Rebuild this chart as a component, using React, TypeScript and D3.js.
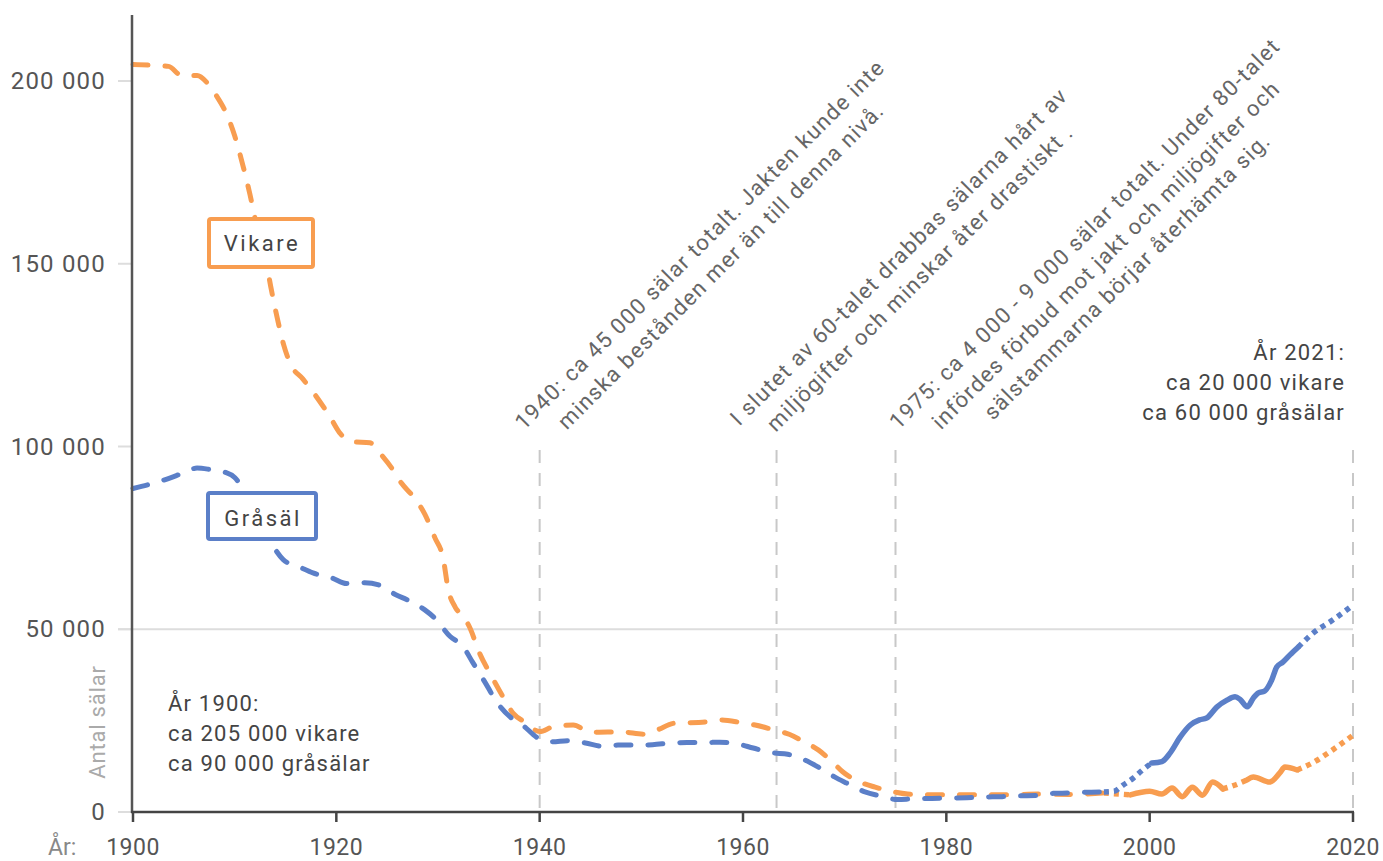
import React from 'react';
import * as d3 from 'd3';

const W = 1383;
const H = 861;

// Vikare (ringed seal) estimated population
const vikareYears = [
  1900, 1902, 1903.5, 1904.8, 1906.3, 1907.3, 1908.2, 1909.2, 1910, 1910.8, 1911.5, 1912.2, 1913, 1913.6,
  1914.2, 1914.8, 1915.5, 1916.7, 1918.2, 1919.4, 1920.4, 1921.6, 1923.3, 1924.5, 1925.6, 1926.4, 1927.5,
  1928.7, 1929.7, 1930.5, 1931, 1931.7, 1932.5, 1933.2, 1934, 1935.2, 1936.4, 1937.4, 1938.6, 1940, 1941.3,
  1943.3, 1945, 1946.7, 1948.1, 1950.2, 1951.5, 1953.3, 1954.6, 1956.5, 1957.9, 1959.9, 1961.2, 1963.1,
  1964.6, 1966, 1967.4, 1968.9, 1969.8, 1971.5, 1973, 1974.8, 1976.2, 1978, 1982, 1986, 1989, 1992, 1995.5,
  1998.1, 2000, 2001.2, 2002.2, 2003.2, 2004.2, 2005.2, 2006.2, 2007.2, 2008.4, 2009.6, 2010.2, 2011.8,
  2012.8, 2013.3, 2014.5, 2016, 2018, 2020,
];
const vikareValues = [
  204500, 204300, 204000, 201500, 201500, 199500, 196000, 191000, 185000, 177000, 169000, 160000, 152000, 143000,
  135000, 128000, 122500, 118500, 113000, 108000, 103500, 101300, 101000, 97500, 93500, 90000, 86500,
  81500, 75000, 69500, 61000, 56000, 53500, 50000, 44000, 37500, 31500, 27000, 24500, 22000, 23300,
  23800, 21800, 21900, 21900, 21300, 22400, 24300, 24400, 24700, 25200, 24400, 23800, 22400,
  21200, 19200, 17000, 13400, 11000, 8200, 6800, 5500, 4900, 4700, 4700, 4700, 4900, 4800, 5200,
  4700, 5700, 4900, 6600, 4200, 6800, 4600, 8200, 6300, 7400, 8800, 9600, 8200,
  10700, 12300, 11500, 13400, 17000, 21000,
];

// Gråsäl (grey seal) estimated population
const grasalYears = [
  1900, 1901.7, 1903, 1904.9, 1906.3, 1907.6, 1909, 1910, 1910.8, 1911.6, 1912.5, 1913.5, 1914.8, 1916.4,
  1917.7, 1919.6, 1921, 1922.8, 1924.3, 1925.8, 1927, 1928.7, 1929.7, 1931.2, 1932.4, 1933.4, 1934.6, 1935.8,
  1937.1, 1938.4, 1939.8, 1941.2, 1942.8, 1944.5, 1946.1, 1947.7, 1949.6, 1951.1, 1953, 1954.5, 1956.3,
  1957.7, 1959.5, 1961, 1962.9, 1964.4, 1966.1, 1967.4, 1969, 1970.2, 1972, 1973.5, 1975.2, 1976.7, 1978.6,
  1980.2, 1982, 1983.6, 1985.5, 1987, 1988.9, 1990.5, 1992.2, 1993.6, 1995.5, 1996.5, 1997.4, 1998.4,
  1999.3, 2000.2, 2001.2, 2002, 2003, 2004, 2004.9, 2005.6, 2006.6, 2007.6, 2008.4, 2008.9, 2009.6, 2010.2,
  2010.7, 2011.3, 2012, 2012.5, 2013.1, 2013.8, 2014.6, 2016.1, 2018, 2020,
];
const grasalValues = [
  88500, 89700, 90800, 92700, 94100, 93700, 93000, 91500, 88500, 84000, 79000, 74000, 69000, 67000,
  65400, 64000, 62500, 62700, 62000, 59500, 58000, 55300, 53000, 48000, 45500, 41000, 35600, 30000,
  26000, 23600, 20300, 19200, 19500, 18900, 18000, 18300, 18300, 18400, 18900, 19000, 19000,
  19100, 18600, 17500, 16200, 15800, 14200, 12300, 9600, 7900, 5500, 4400, 3400, 3600, 3700,
  3800, 3900, 4100, 4200, 4400, 4500, 5100, 5200, 5400, 5500, 5700, 7400, 9300,
  11500, 13400, 13800, 16100, 20500, 23800, 25200, 25700, 28700, 30600, 31500, 30800, 28800, 31200,
  32600, 33100, 36100, 39700, 41000, 43000, 45100, 49000, 52500, 56600,
];

// line-style periods [from, to, style]
const vikareSegments: [number, number, string][] = [
  [1900, 1995.5, 'dash'], [1995.5, 1998.1, 'dot'], [1998.1, 2007.2, 'solid'],
  [2007.2, 2009.6, 'dot'], [2009.6, 2014.5, 'solid'], [2014.5, 2020, 'dot'],
];
const grasalSegments: [number, number, string][] = [
  [1900, 1995.5, 'dash'], [1995.5, 2000.2, 'dot'], [2000.2, 2014.6, 'solid'], [2014.6, 2020, 'dot'],
];

const xTicks = [1900, 1920, 1940, 1960, 1980, 2000, 2020];
const yTicks = [0, 50000, 100000, 150000, 200000];
const gridValues = [50000];
const eventYears = [1940, 1963.3, 1975, 2020];

const annotation1940 = ['1940: ca 45 000 sälar totalt. Jakten kunde inte', 'minska bestånden mer än till denna nivå.'];
const annotation1960s = ['I slutet av 60-talet drabbas sälarna hårt av', 'miljögifter och minskar åter drastiskt .'];
const annotation1975 = [
  '1975: ca 4 000 - 9 000 sälar totalt. Under 80-talet',
  'infördes förbud mot jakt och miljögifter och',
  'sälstammarna börjar återhämta sig.',
];
const note1900 = ['År 1900:', 'ca 205 000 vikare', 'ca 90 000 gråsälar'];
const note2021 = ['År 2021:', 'ca 20 000 vikare', 'ca 60 000 gråsälar'];

const ORANGE = '#F89D50';
const BLUE = '#5B7FC8';
const FONT = 'Roboto, "Noto Sans", sans-serif';

const x = d3.scaleLinear().domain([1900, 2020]).range([133, 1353]);
const y = d3.scaleLinear().domain([0, 200000]).range([812, 81]);

const lineGen = d3
  .line<[number, number]>()
  .x((d) => x(d[0]))
  .y((d) => y(d[1]))
  .curve(d3.curveMonotoneX);

const fmt = (v: number) => d3.format(',')(v).replace(/,/g, ' ');

function Series({ years, values, segments, color }: { years: number[]; values: number[]; segments: [number, number, string][]; color: string }) {
  const pts: [number, number][] = years.map((yr, i) => [yr, values[i]]);
  return (
    <g>
      {segments.map(([a, b, style], i) => {
        const seg = pts.filter((p) => p[0] >= a - 1e-6 && p[0] <= b + 1e-6);
        const d = lineGen(seg) || '';
        const props: any = { fill: 'none', stroke: color, strokeWidth: 5 };
        if (style === 'dash') {
          props.strokeDasharray = '15 17';
          props.strokeLinecap = 'round';
        } else if (style === 'dot') {
          props.strokeDasharray = '5 5';
          props.strokeLinecap = 'butt';
          props.strokeWidth = 5.5;
        } else {
          props.strokeLinecap = 'round';
          props.strokeWidth = 5.5;
        }
        return <path key={i} d={d} {...props} />;
      })}
    </g>
  );
}

function RotNote({ lines, cx, cy }: { lines: string[]; cx: number; cy: number }) {
  return (
    <text
      transform={`translate(${cx},${cy}) rotate(-45)`}
      fontFamily={FONT}
      fontSize={22}
      fill="#666"
      textAnchor="middle"
      letterSpacing={1.3}
    >
      {lines.map((l, i) => (
        <tspan key={i} x={0} y={i * 30}>
          {l}
        </tspan>
      ))}
    </text>
  );
}

export default function App() {
  return (
    <svg width={W} height={H} style={{ position: 'absolute', left: 0, top: 0, background: '#fff' }}>
      {/* gridline */}
      {gridValues.map((v) => (
        <line key={v} x1={118} x2={1353} y1={y(v)} y2={y(v)} stroke="#ddd" strokeWidth={2} />
      ))}
      {/* y tick marks */}
      {yTicks.map((v) => (
        <line key={v} x1={118} x2={132} y1={y(v)} y2={y(v)} stroke="#ddd" strokeWidth={2} />
      ))}
      {/* event dashed verticals */}
      {eventYears.map((yr) => (
        <line key={yr} x1={x(yr)} x2={x(yr)} y1={450} y2={812} stroke="#c8c8c8" strokeWidth={2} strokeDasharray="13 10" />
      ))}

      <Series years={vikareYears} values={vikareValues} segments={vikareSegments} color={ORANGE} />
      <Series years={grasalYears} values={grasalValues} segments={grasalSegments} color={BLUE} />

      {/* axes */}
      <line x1={132} x2={132} y1={15} y2={813} stroke="#555" strokeWidth={2.5} />
      <line x1={131} x2={1354} y1={812} y2={812} stroke="#444" strokeWidth={2.5} />
      {xTicks.map((t) => (
        <g key={t}>
          <line x1={x(t)} x2={x(t)} y1={812} y2={822} stroke="#444" strokeWidth={2.5} />
          <text x={x(t)} y={855} textAnchor="middle" fontFamily={FONT} fontSize={23} fill="#555" letterSpacing={0.5}>
            {t}
          </text>
        </g>
      ))}
      <text x={48} y={855} fontFamily={FONT} fontSize={23} fill="#888">
        År:
      </text>
      {yTicks.map((v) => (
        <text key={v} x={106} y={y(v) + 8} textAnchor="end" fontFamily={FONT} fontSize={24} fill="#555" letterSpacing={1.2}>
          {fmt(v)}
        </text>
      ))}
      <text transform="translate(105,722) rotate(-90)" textAnchor="middle" fontFamily={FONT} fontSize={22} fill="#aaa" letterSpacing={0.8}>
        Antal sälar
      </text>

      {/* legend boxes */}
      <rect x={209} y={219} width={104} height={48} fill="#fff" stroke={ORANGE} strokeWidth={4} rx={2} />
      <text x={262} y={251} textAnchor="middle" fontFamily={FONT} fontSize={22} fill="#444" letterSpacing={2.5}>
        Vikare
      </text>
      <rect x={208} y={493} width={108} height={46} fill="#fff" stroke={BLUE} strokeWidth={4} rx={2} />
      <text x={263} y={526} textAnchor="middle" fontFamily={FONT} fontSize={22} fill="#444" letterSpacing={2.5}>
        Gråsäl
      </text>

      {/* notes */}
      <text fontFamily={FONT} fontSize={22} fill="#444" letterSpacing={1.2}>
        {note1900.map((l, i) => (
          <tspan key={i} x={168} y={711 + i * 30}>
            {l}
          </tspan>
        ))}
      </text>
      <text fontFamily={FONT} fontSize={22} fill="#444" textAnchor="end" letterSpacing={1.2}>
        {note2021.map((l, i) => (
          <tspan key={i} x={1345} y={360 + i * 30}>
            {l}
          </tspan>
        ))}
      </text>

      <RotNote lines={annotation1940} cx={705} cy={250} />
      <RotNote lines={annotation1960s} cx={904} cy={262} />
      <RotNote lines={annotation1975} cx={1090} cy={239} />
    </svg>
  );
}
